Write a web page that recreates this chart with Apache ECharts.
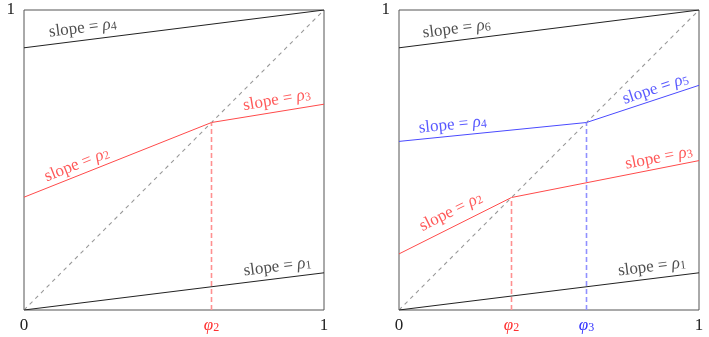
<!DOCTYPE html>
<html>
<head>
<meta charset="utf-8">
<script src="https://cdn.jsdelivr.net/npm/echarts@6/dist/echarts.min.js"></script>
<style>html,body{margin:0;background:#fff}</style>
</head>
<body>
<div id="main" style="width:709px;height:337px;"></div>
<script>
    // 左图的线
    var leftTop = [[0, 0.874], [1, 1]];
    var leftRed = [[0, 0.376], [0.625, 0.625], [1, 0.686]];
    var leftBottom = [[0, 0], [1, 0.124]];
    var leftPhi = [0.625];
    var leftTickValues = [0, 0.625, 1];
    var leftTickNames = ['0', '{red|φ}{reds|2}', '1'];
    // 左图标注: [x, y, 下标, 角度, 颜色]
    var leftLabels = [
        [0.196, 0.940, '4', 7.2, 'black'],
        [0.843, 0.700, '3', 9.7, 'red'],
        [0.176, 0.484, '2', 21.5, 'red'],
        [0.845, 0.144, '1', 7.1, 'black']
    ];

    // 右图的线
    var rightTop = [[0, 0.874], [1, 1]];
    var rightBlue = [[0, 0.562], [0.625, 0.625], [1, 0.749]];
    var rightRed = [[0, 0.187], [0.375, 0.375], [1, 0.498]];
    var rightBottom = [[0, 0], [1, 0.124]];
    var rightPhiRed = [0.375];
    var rightPhiBlue = [0.625];
    var rightTickValues = [0, 0.375, 0.625, 1];
    var rightTickNames = ['0', '{red|φ}{reds|2}', '{blue|φ}{blues|3}', '1'];
    var rightLabels = [
        [0.192, 0.937, '6', 7.2, 'black'],
        [0.855, 0.737, '5', 18.4, 'blue'],
        [0.179, 0.617, '4', 5.7, 'blue'],
        [0.866, 0.507, '3', 11.1, 'red'],
        [0.173, 0.327, '2', 26.6, 'red'],
        [0.843, 0.144, '1', 7.1, 'black']
    ];

    var lineColors = { black: '#222', red: '#ff4a4a', blue: '#4a4aff' };
    var textColors = { black: '#222', red: '#ff3030', blue: '#3030ff' };
    var font = 'Liberation Serif';
    var fs = 17, fsSub = 12;

    var tickRich = {
        red: { color: textColors.red, fontFamily: font, fontSize: fs, fontStyle: 'italic', verticalAlign: 'bottom' },
        reds: { color: textColors.red, fontFamily: font, fontSize: fsSub, verticalAlign: 'bottom' },
        blue: { color: textColors.blue, fontFamily: font, fontSize: fs, fontStyle: 'italic', verticalAlign: 'bottom' },
        blues: { color: textColors.blue, fontFamily: font, fontSize: fsSub, verticalAlign: 'bottom' }
    };

    var myChart = echarts.init(document.getElementById('main'));

    function xAxisFor(idx, values, names) {
        return {
            type: 'value', gridIndex: idx, min: 0, max: 1,
            axisLine: { show: false }, axisTick: { show: false }, splitLine: { show: false },
            axisLabel: {
                customValues: values,
                margin: 7,
                color: '#222',
                fontFamily: font, fontSize: fs,
                rich: tickRich,
                formatter: function (v) {
                    for (var k = 0; k < values.length; k++) {
                        if (Math.abs(values[k] - Number(v)) < 1e-6) return names[k];
                    }
                    return '';
                }
            }
        };
    }
    function yAxisFor(idx) {
        return {
            type: 'value', gridIndex: idx, min: 0, max: 1,
            axisLine: { show: false }, axisTick: { show: false }, splitLine: { show: false },
            axisLabel: {
                customValues: [1], margin: 9,
                fontFamily: font, fontSize: fs, color: '#222',
                formatter: function () { return '1'; }
            }
        };
    }
    function line(idx, data, color, dash, width) {
        return {
            type: 'line', xAxisIndex: idx, yAxisIndex: idx, data: data,
            showSymbol: false, silent: true, animation: false,
            itemStyle: { color: color },
            lineStyle: { color: color, width: width || 1, type: dash || 'solid' }
        };
    }
    function vline(idx, x, color) {
        return line(idx, [[x[0], 0], [x[0], x[0]]], color, [5, 3], 1.6);
    }
    function labels(idx, list) {
        return {
            type: 'scatter', xAxisIndex: idx, yAxisIndex: idx, symbolSize: 0,
            silent: true, animation: false,
            data: list.map(function (l) {
                var c = textColors[l[4]];
                return {
                    value: [l[0], l[1]],
                    label: {
                        show: true, position: 'inside', rotate: l[3],
                        formatter: '{t|slope = }{g|ρ}{s|' + l[2] + '}',
                        rich: {
                            t: { color: c, fontFamily: font, fontSize: fs, verticalAlign: 'bottom' },
                            g: { color: c, fontFamily: font, fontSize: fs, fontStyle: 'italic', verticalAlign: 'bottom' },
                            s: { color: c, fontFamily: font, fontSize: fsSub, verticalAlign: 'bottom' }
                        }
                    }
                };
            })
        };
    }

    var option = {
        grid: [
            { left: 24, top: 10, width: 300, height: 300, show: true, borderColor: '#555', borderWidth: 1 },
            { left: 399, top: 10, width: 300, height: 300, show: true, borderColor: '#555', borderWidth: 1 }
        ],
        xAxis: [
            xAxisFor(0, leftTickValues, leftTickNames),
            xAxisFor(1, rightTickValues, rightTickNames)
        ],
        yAxis: [yAxisFor(0), yAxisFor(1)],
        series: [
            line(0, [[0, 0], [1, 1]], '#999', [4, 4], 1.1),
            line(0, leftTop, lineColors.black),
            line(0, leftRed, lineColors.red),
            line(0, leftBottom, lineColors.black),
            vline(0, leftPhi, '#ff9090'),
            labels(0, leftLabels),

            line(1, [[0, 0], [1, 1]], '#999', [4, 4], 1.1),
            line(1, rightTop, lineColors.black),
            line(1, rightBlue, lineColors.blue),
            line(1, rightRed, lineColors.red),
            line(1, rightBottom, lineColors.black),
            vline(1, rightPhiRed, '#ff9090'),
            vline(1, rightPhiBlue, '#9090ff'),
            labels(1, rightLabels)
        ]
    };

    myChart.setOption(option);
</script>
</body>
</html>
